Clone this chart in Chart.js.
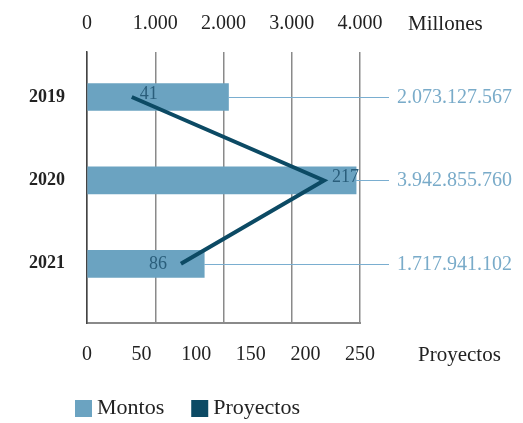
<!DOCTYPE html>
<html lang="es">
<head>
<meta charset="UTF-8" />
<title>Montos y Proyectos</title>
<script src="https://cdn.jsdelivr.net/npm/chart.js"></script>
<style>
  html, body { margin: 0; padding: 0; background: #fff; }
  #wrap { width: 523px; height: 423px; }
</style>
</head>
<body>
<div id="wrap"><canvas id="chart" width="523" height="423"></canvas></div>
<script>
// datos
const years = ['2019', '2020', '2021'];
const montos = [2073127567, 3942855760, 1717941102];   // pesos
const proyectos = [41, 217, 86];
const labelSide = ['right', 'right', 'left'];

const FONT = "'Liberation Serif', 'DejaVu Serif', serif";
const BAR = '#6ba3c1';
const LINE = '#0c4a64';
const LIGHT = '#79abc9';

const fmt = v => String(v).replace(/\B(?=(\d{3})+(?!\d))/g, '.');

const extras = {
    id: 'extras',
    afterDatasetsDraw(chart) {
        const ctx = chart.ctx;
        const area = chart.chartArea;
        const x = chart.scales.x, x2 = chart.scales.x2, y = chart.scales.y;
        ctx.save();

        // lineas guia + montos a la derecha
        ctx.strokeStyle = '#7aaed0';
        ctx.lineWidth = 1;
        ctx.fillStyle = LIGHT;
        ctx.font = '20px ' + FONT;
        ctx.textBaseline = 'middle';
        ctx.textAlign = 'left';
        montos.forEach((m, i) => {
            const py = Math.round(y.getPixelForValue(i)) + 0.5;
            ctx.beginPath();
            ctx.moveTo(x.getPixelForValue(m / 1e6), py);
            ctx.lineTo(area.right + 29, py);
            ctx.stroke();
            ctx.fillText(fmt(m), area.right + 37, py);
        });

        // etiquetas de proyectos
        ctx.fillStyle = '#2a5e7b';
        ctx.font = '18px ' + FONT;
        proyectos.forEach((p, i) => {
            const px = x2.getPixelForValue(p);
            const py = y.getPixelForValue(i);
            if (labelSide[i] === 'left') {
                ctx.textAlign = 'right';
                ctx.fillText(p, px - 14, py);
            } else {
                ctx.textAlign = 'left';
                ctx.fillText(p, px + 8, py - 3);
            }
        });

        // titulos de ejes
        ctx.fillStyle = '#222';
        ctx.font = '21px ' + FONT;
        ctx.textAlign = 'left';
        ctx.fillText('Millones', area.right + 48, 24);
        ctx.fillText('Proyectos', area.right + 58, 355);

        // leyenda
        ctx.font = '22px ' + FONT;
        let lx = 75;
        const ly = 408;
        chart.data.datasets.forEach(ds => {
            ctx.fillStyle = ds.legendColor;
            ctx.fillRect(lx, ly - 8, 17, 17);
            ctx.fillStyle = '#222';
            ctx.fillText(ds.label, lx + 22, ly);
            lx += 22 + ctx.measureText(ds.label).width + 27;
        });
        ctx.restore();
    }
};

new Chart(document.getElementById('chart'), {
    type: 'bar',
    data: {
        datasets: [{
            label: 'Montos',
            data: montos.map((m, i) => ({ x: m / 1e6, y: i })),
            backgroundColor: BAR,
            legendColor: BAR,
            barThickness: 27,
            xAxisID: 'x',
            yAxisID: 'y',
            order: 2
        }, {
            type: 'line',
            label: 'Proyectos',
            data: proyectos.map((p, i) => ({ x: p, y: i })),
            indexAxis: 'y',
            borderColor: LINE,
            legendColor: LINE,
            borderWidth: 4,
            borderJoinStyle: 'miter',
            pointRadius: 0,
            fill: false,
            tension: 0,
            xAxisID: 'x2',
            yAxisID: 'y',
            order: 1
        }]
    },
    options: {
        indexAxis: 'y',
        responsive: false,
        animation: false,
        layout: { padding: { top: 0, left: 0, right: 163, bottom: 56 } },
        plugins: {
            legend: { display: false },
            tooltip: { enabled: false }
        },
        scales: {
            x: {
                position: 'top',
                min: 0, max: 4000,
                grid: { color: '#8a8a8a', lineWidth: 1.5, drawTicks: false },
                border: { display: false },
                ticks: {
                    stepSize: 1000, padding: 16, color: '#222',
                    font: { family: FONT, size: 20 },
                    callback: v => fmt(v)
                },
                afterFit: s => { s.height = 52; }
            },
            x2: {
                position: 'bottom',
                min: 0, max: 250,
                grid: { display: false, drawTicks: false },
                border: { display: true, color: '#8a8a8a', width: 2 },
                ticks: {
                    stepSize: 50, padding: 20, color: '#222',
                    font: { family: FONT, size: 20 }
                },
                afterFit: s => { s.height = 44; }
            },
            y: {
                type: 'linear',
                reverse: true,
                offset: false,
                min: -0.54, max: 2.71,
                grid: { display: false, drawTicks: false, offset: false },
                border: { display: true, color: '#444', width: 1.5 },
                afterBuildTicks: s => { s.ticks = years.map((_, i) => ({ value: i })); },
                ticks: {
                    padding: 22, color: '#222',
                    font: { family: FONT, size: 18, weight: 'bold' },
                    callback: v => years[v]
                },
                afterFit: s => { s.width = 87; }
            }
        }
    },
    plugins: [extras]
});
</script>
</body>
</html>
